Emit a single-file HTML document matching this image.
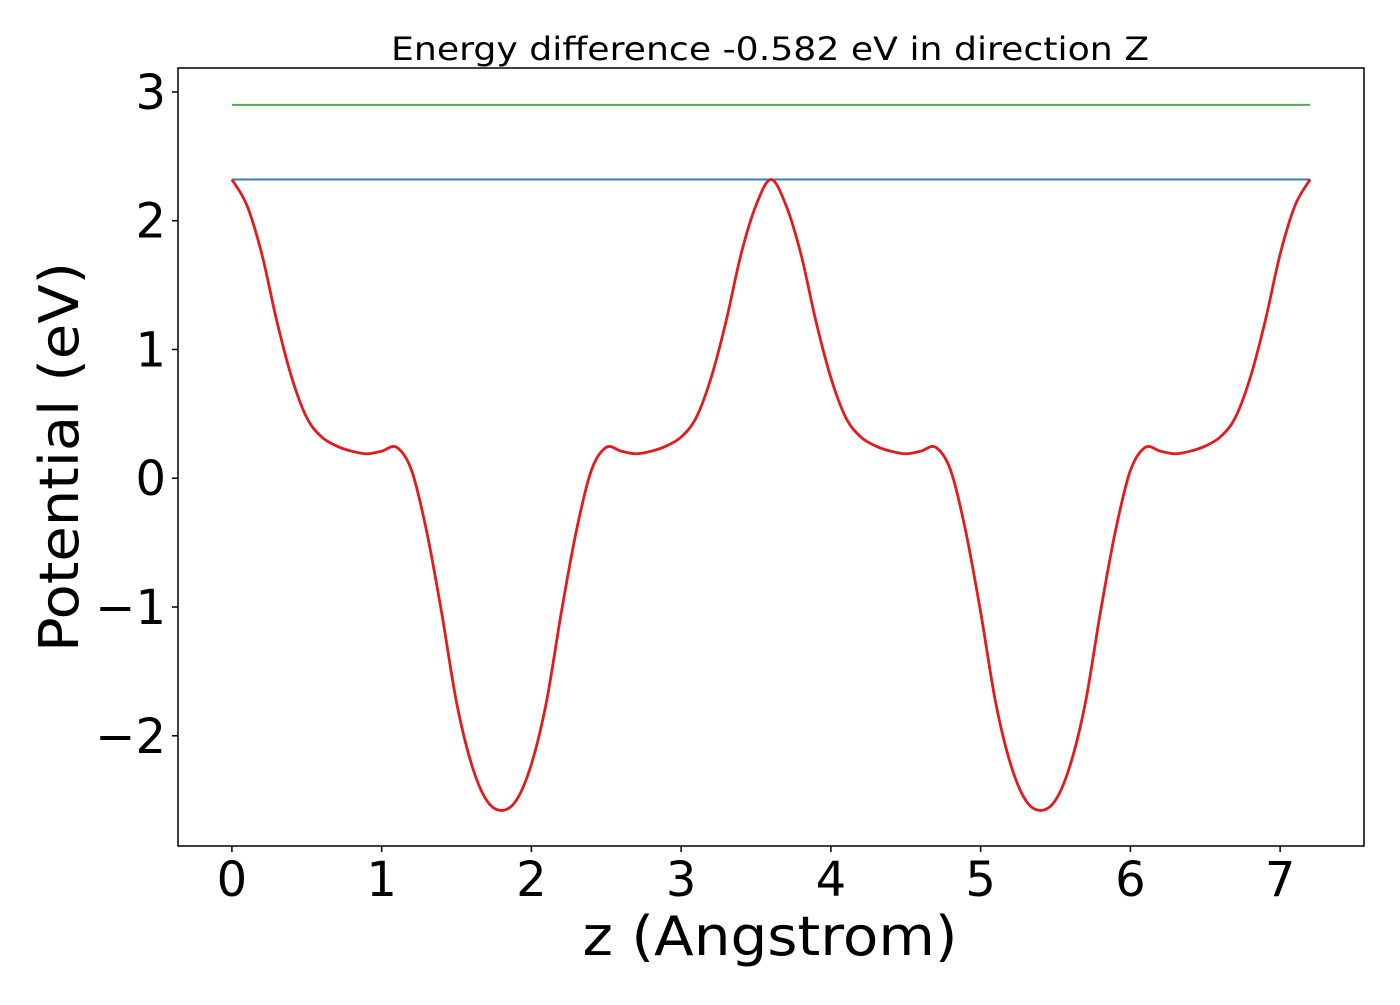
<!DOCTYPE html>
<html><head><meta charset="utf-8"><style>
html,body{margin:0;padding:0;background:#fff;}
svg text{font-family:"DejaVu Sans","Liberation Sans",sans-serif;fill:#000;}
</style></head><body>
<svg id="chart" width="1400" height="1000" xmlns="http://www.w3.org/2000/svg">
<rect width="1400" height="1000" fill="#fff"/>
<text x="770" y="60" font-size="32" text-anchor="middle" textLength="758" lengthAdjust="spacingAndGlyphs">Energy difference -0.582 eV in direction Z</text>
<g id="xticks"></g>
<g id="yticks"></g>
<g id="series"></g>
<rect x="178" y="68" width="1186" height="778" fill="none" stroke="#000" stroke-width="1.5"/>
<text x="770" y="955" font-size="54" text-anchor="middle" textLength="375" lengthAdjust="spacingAndGlyphs">z (Angstrom)</text>
<text transform="translate(78,457) rotate(-90)" font-size="54" text-anchor="middle" textLength="390" lengthAdjust="spacingAndGlyphs">Potential (eV)</text>
</svg>
<script>
const xTickValues=[0,1,2,3,4,5,6,7];
const yTickValues=[-2,-1,0,1,2,3];
const zStep=0.1;
const potential=[2.32,2.12,1.74,1.22,0.78,0.47,0.32,0.25,0.21,0.19,0.21,0.24,0.06,-0.41,-1.04,-1.74,-2.22,-2.50,-2.58,
-2.50,-2.22,-1.74,-1.04,-0.41,0.06,0.24,0.21,0.19,0.21,0.25,0.32,0.47,0.78,1.22,1.74,2.12,2.32,
2.12,1.74,1.22,0.78,0.47,0.32,0.25,0.21,0.19,0.21,0.24,0.06,-0.41,-1.04,-1.74,-2.22,-2.50,-2.58,
-2.50,-2.22,-1.74,-1.04,-0.41,0.06,0.24,0.21,0.19,0.21,0.25,0.32,0.47,0.78,1.22,1.74,2.12,2.32];
const greenLevel=[2.9];
const blueLevel=[2.32];
const xDomain=[-0.36,7.56], yDomain=[-2.856,3.186];
const L=178,R=1364,T=68,B=846;
const sx=v=>L+(v-xDomain[0])/(xDomain[1]-xDomain[0])*(R-L);
const sy=v=>B-(v-yDomain[0])/(yDomain[1]-yDomain[0])*(B-T);
const NS="http://www.w3.org/2000/svg";
function mk(tag,attrs,parent){const e=document.createElementNS(NS,tag);for(const k in attrs)e.setAttribute(k,attrs[k]);parent.appendChild(e);return e;}
const xg=document.getElementById('xticks'),yg=document.getElementById('yticks'),sg=document.getElementById('series');
xTickValues.forEach(v=>{
 const t=mk('line',{x1:sx(v),x2:sx(v),y1:B,y2:B+6,stroke:'#000','stroke-width':1.5},xg);
 
 
 const l=mk('text',{x:sx(v),y:896,'font-size':48,'text-anchor':'middle'},xg);
 l.textContent=String(v);
 
 
});
yTickValues.forEach(v=>{
 const t=mk('line',{x1:L-6,x2:L,y1:sy(v),y2:sy(v),stroke:'#000','stroke-width':1.5},yg);
 
 
 const l=mk('text',{x:166,y:sy(v)+17,'font-size':48,'text-anchor':'end'},yg);
 l.textContent=v<0?'\u2212'+Math.abs(v):String(v);
 
 
});
const xEnd=(potential.length-1)*zStep;
const g=mk('line',{x1:sx(0),x2:sx(xEnd),y1:sy(greenLevel[0]),y2:sy(greenLevel[0]),stroke:'#4daf4a','stroke-width':2},sg);


const b=mk('line',{x1:sx(0),x2:sx(xEnd),y1:sy(blueLevel[0]),y2:sy(blueLevel[0]),stroke:'#377eb8','stroke-width':2},sg);


const pts=potential.map((v,i)=>[sx(i*zStep),sy(v)]);
let d='M'+pts[0][0]+','+pts[0][1];
for(let i=0;i<pts.length-1;i++){
 const p0=pts[Math.max(0,i-1)],p1=pts[i],p2=pts[i+1],p3=pts[Math.min(pts.length-1,i+2)];
 const c1=[p1[0]+(p2[0]-p0[0])/6,p1[1]+(p2[1]-p0[1])/6];
 const c2=[p2[0]-(p3[0]-p1[0])/6,p2[1]-(p3[1]-p1[1])/6];
 d+=' C'+c1[0]+','+c1[1]+' '+c2[0]+','+c2[1]+' '+p2[0]+','+p2[1];
}
const r=mk('path',{d:d,fill:'none',stroke:'#e41a1c','stroke-width':2.8},sg);


</script>
</body></html>
